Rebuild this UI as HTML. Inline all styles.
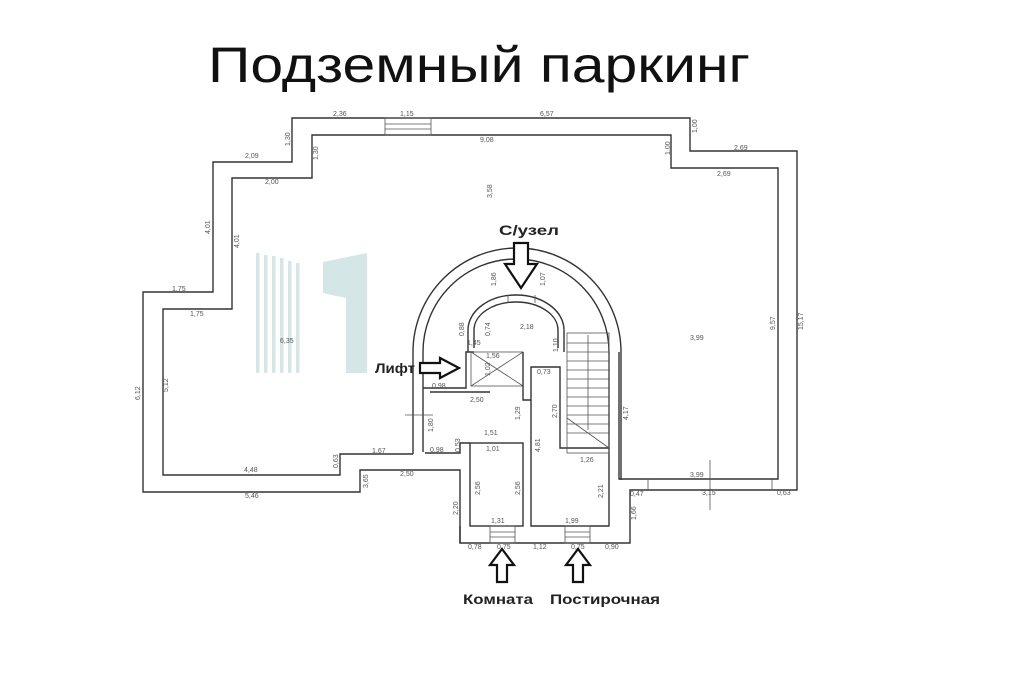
<!DOCTYPE html>
<html><head><meta charset="utf-8"><style>
html,body{margin:0;padding:0;background:#fff;width:1024px;height:683px;overflow:hidden}
svg{display:block}
.w{fill:none;stroke:#333;stroke-width:1.4}
.t{fill:none;stroke:#555;stroke-width:0.8}
.d{font-family:"Liberation Sans",sans-serif;font-size:7px;fill:#555}
.l{font-family:"Liberation Sans",sans-serif;font-weight:bold;font-size:14px;fill:#222}
.ar{fill:#fff;stroke:#111;stroke-width:2.2;stroke-linejoin:miter}
</style></head><body>
<svg width="1024" height="683" viewBox="0 0 1024 683" xmlns="http://www.w3.org/2000/svg">
<text x="208" y="82" font-family="Liberation Sans, sans-serif" font-size="50" fill="#111" textLength="542" lengthAdjust="spacingAndGlyphs">Подземный паркинг</text>
<g fill="#d4e6e6">
<rect x="256" y="253" width="3.5" height="120"/><rect x="264" y="255" width="3.5" height="118"/><rect x="272" y="256" width="3.5" height="117"/><rect x="280" y="258" width="3.5" height="115"/><rect x="288" y="261" width="3.5" height="112"/><rect x="296" y="263" width="3.5" height="110"/>
<path d="M323 262 L367 253 L367 373 L346 373 L346 298 L323 293 Z"/>
</g>
<path class="w" d="M292 118 L690 118 L690 151 L797 151 L797 490 L630 490 L630 543 L460 543 L460 470 L360 470 L360 492 L143 492 L143 292 L213 292 L213 162 L292 162 Z"/>
<path class="w" d="M413 454 L340 454 L340 475 L163 475 L163 309 L232 309 L232 178 L312 178 L312 135 L671 135 L671 168 L778 168 L778 479 L619 479 L619 352"/>
<rect class="t" x="385" y="118" width="46" height="17"/><line class="t" x1="385" y1="124" x2="431" y2="124"/><line class="t" x1="385" y1="129" x2="431" y2="129"/>
<path class="w" d="M413 454 L413 352 A104 104 0 0 1 621 352 L621 480"/>
<path class="w" d="M423 452 L423 352 A93 93 0 0 1 609 352 L609 453"/>
<path class="w" d="M468 352 L468 330 A48 35 0 0 1 564 330 L564 352"/>
<path class="w" d="M474 348 L474 330 A42 28 0 0 1 558 330 L558 348"/>
<line class="t" x1="508" y1="295" x2="508" y2="303"/><line class="t" x1="535" y1="295" x2="535" y2="303"/>
<path class="w" d="M423 388 L466 388 L466 352 L474 352"/>
<path class="w" d="M430 392 L490 392"/>
<rect class="t" x="471" y="352" width="52" height="34"/>
<line class="t" x1="471" y1="352" x2="523" y2="386"/><line class="t" x1="523" y1="352" x2="471" y2="386"/>
<path class="w" d="M523 352 L523 400 L531 400 L531 367 L560 367 L560 448 L609 448"/>
<path class="w" d="M425 453 L460 453 L460 443 L470 443"/>
<rect class="w" x="470" y="443" width="53" height="83"/>
<path class="w" d="M531 400 L531 526 L609 526 L609 453"/>
<path class="w" d="M460 526 L460 543"/>
<rect class="t" x="567" y="333" width="42" height="120"/>
<g class="t"><line x1="567" y1="343" x2="609" y2="343"/><line x1="567" y1="352" x2="609" y2="352"/><line x1="567" y1="361" x2="609" y2="361"/><line x1="567" y1="370" x2="609" y2="370"/><line x1="567" y1="379" x2="609" y2="379"/><line x1="567" y1="388" x2="609" y2="388"/><line x1="567" y1="397" x2="609" y2="397"/><line x1="567" y1="406" x2="609" y2="406"/><line x1="567" y1="415" x2="609" y2="415"/><line x1="567" y1="424" x2="609" y2="424"/><line x1="567" y1="433" x2="609" y2="433"/><line x1="567" y1="418" x2="609" y2="448"/><line x1="588" y1="335" x2="588" y2="430"/></g>
<rect class="t" x="490" y="526" width="25" height="17"/><line class="t" x1="490" y1="532" x2="515" y2="532"/><line class="t" x1="490" y1="537" x2="515" y2="537"/>
<rect class="t" x="565" y="526" width="25" height="17"/><line class="t" x1="565" y1="532" x2="590" y2="532"/><line class="t" x1="565" y1="537" x2="590" y2="537"/>
<line class="t" x1="648" y1="479" x2="648" y2="490"/><line class="t" x1="772" y1="479" x2="772" y2="490"/>
<line class="t" x1="710" y1="460" x2="710" y2="510"/>
<line class="t" x1="405" y1="415" x2="433" y2="415"/>
<g class="d">
<text x="333" y="116">2,36</text><text x="400" y="116">1,15</text><text x="540" y="116">6,57</text><text x="480" y="142">9,08</text>
<text x="245" y="158">2,09</text><text x="265" y="184">2,00</text><text x="734" y="150">2,69</text><text x="717" y="176">2,69</text>
<text x="172" y="291">1,75</text><text x="190" y="316">1,75</text><text x="280" y="343">6,35</text><text x="690" y="340">3,99</text>
<text x="244" y="472">4,48</text><text x="245" y="498">5,46</text><text x="372" y="453">1,67</text><text x="400" y="476">2,50</text>
<text x="520" y="329">2,18</text><text x="467" y="345">1,45</text><text x="486" y="358">1,56</text><text x="432" y="388">0,98</text><text x="470" y="402">2,50</text>
<text x="430" y="452">0,98</text><text x="484" y="435">1,51</text><text x="486" y="451">1,01</text><text x="537" y="374">0,73</text>
<text x="580" y="462">1,26</text><text x="491" y="523">1,31</text><text x="565" y="523">1,99</text><text x="690" y="477">3,99</text><text x="702" y="495">3,15</text>
<text x="630" y="496">0,47</text><text x="777" y="495">0,63</text><text x="468" y="549">0,78</text><text x="497" y="549">0,75</text><text x="533" y="549">1,12</text><text x="571" y="549">0,75</text><text x="605" y="549">0,90</text>
<g transform="rotate(-90)">
<text x="-146" y="290">1,30</text><text x="-160" y="318">1,30</text><text x="-234" y="210">4,01</text><text x="-248" y="239">4,01</text>
<text x="-400" y="140">6,12</text><text x="-392" y="168">5,12</text><text x="-468" y="338">0,63</text><text x="-488" y="368">3,65</text>
<text x="-198" y="492">3,58</text><text x="-286" y="496">1,86</text><text x="-286" y="545">1,07</text><text x="-336" y="490">0,74</text><text x="-336" y="464">0,88</text>
<text x="-352" y="558">1,10</text><text x="-376" y="490">1,02</text><text x="-420" y="520">1,29</text><text x="-418" y="557">2,70</text><text x="-452" y="540">4,81</text>
<text x="-432" y="433">1,80</text><text x="-452" y="460">0,53</text><text x="-495" y="480">2,56</text><text x="-495" y="520">2,56</text><text x="-515" y="458">2,20</text>
<text x="-498" y="603">2,21</text><text x="-420" y="628">4,17</text><text x="-133" y="697">1,00</text><text x="-155" y="670">1,00</text>
<text x="-330" y="775">9,57</text><text x="-330" y="803">15,17</text><text x="-520" y="636">1,66</text>
</g>
</g>
<path class="ar" d="M514 243 L528 243 L528 264 L537 264 L521 288 L505 264 L514 264 Z"/>
<path class="ar" d="M420 363 L440 363 L440 358 L459 368 L440 378 L440 373 L420 373 Z"/>
<path class="ar" d="M497 582 L507 582 L507 565 L514 565 L502 549 L490 565 L497 565 Z"/>
<path class="ar" d="M573 582 L583 582 L583 565 L590 565 L578 549 L566 565 L573 565 Z"/>
<text class="l" x="499" y="235" font-size="15" textLength="60" lengthAdjust="spacingAndGlyphs">С/узел</text>
<text class="l" x="375" y="373" textLength="40" lengthAdjust="spacingAndGlyphs">Лифт</text>
<text class="l" x="463" y="604" textLength="70" lengthAdjust="spacingAndGlyphs">Комната</text>
<text class="l" x="550" y="604" textLength="110" lengthAdjust="spacingAndGlyphs">Постирочная</text>
</svg>
</body></html>
